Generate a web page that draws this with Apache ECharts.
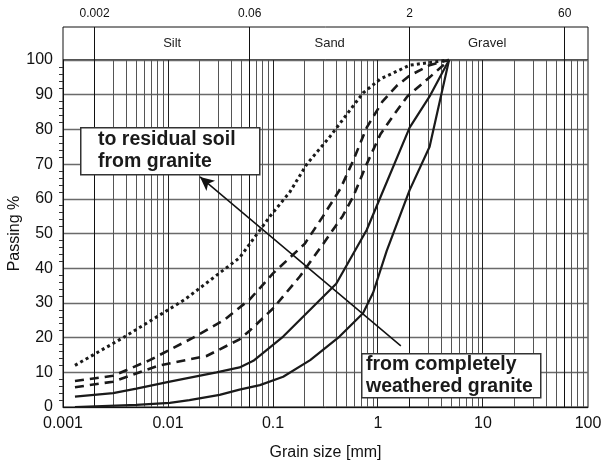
<!DOCTYPE html>
<html><head><meta charset="utf-8">
<script src="https://cdn.jsdelivr.net/npm/echarts@6/dist/echarts.min.js"></script>
<style>html,body{margin:0;padding:0;background:#fff}#c{width:604px;height:465px}</style>
</head><body><div id="c"></div>
<script>
// ---- data ----
const xTickValues = [0.001, 0.01, 0.1, 1, 10, 100];
const boundaryValues = [0.002, 0.06, 2, 60];
const fractionNames = ['Silt', 'Sand', 'Gravel'];

const sizeDotted = [0.0013, 0.00375, 0.0145, 0.048, 0.094, 0.145, 0.21, 0.35, 0.72, 1.05, 2.0, 4.75];
const passDotted = [12, 20, 31, 43, 55, 62, 70, 78, 90.5, 94.5, 98.5, 100];

const sizeDashedA = [0.0013, 0.003, 0.0067, 0.0174, 0.034, 0.06, 0.1, 0.2, 0.3, 0.44, 0.58, 0.78, 1.1, 1.5, 2.0, 3.1, 4.75];
const passDashedA = [7.5, 9, 13.5, 20, 25, 31, 38.5, 47, 55, 63, 71, 80.5, 88, 92.5, 95.5, 98.5, 100];

const sizeDashedB = [0.0013, 0.003, 0.0083, 0.0233, 0.048, 0.06, 0.1, 0.18, 0.3, 0.46, 0.58, 0.78, 1.05, 1.4, 1.9, 3.1, 4.75];
const passDashedB = [5.7, 7.3, 12, 14.7, 19.5, 22, 28.4, 37.6, 47, 55, 60.6, 70, 78.5, 84, 89.5, 95, 100];

const sizeSolidA = [0.0013, 0.003, 0.005, 0.0104, 0.029, 0.048, 0.065, 0.125, 0.4, 0.78, 2.0, 3.1, 4.75];
const passSolidA = [3, 4, 5.3, 7.3, 10, 11.4, 13.3, 20.3, 35.5, 51, 80.5, 89.5, 100];

const sizeSolidB = [0.0013, 0.005, 0.0104, 0.016, 0.031, 0.048, 0.075, 0.125, 0.226, 0.43, 0.72, 0.9, 1.21, 2.0, 3.1, 4.75];
const passSolidB = [0, 0.6, 1.2, 2, 3.5, 5, 6.3, 8.7, 13.5, 20.3, 27, 33, 45, 62.5, 75, 100];

// arrow annotation (data coordinates: grain size, passing)
const arrowFrom = [1.65, 17.6];
const arrowTo = [0.0202, 66.3];

// ---- helpers ----
const FONT = 'Liberation Sans, Arial, Helvetica, sans-serif';
const zip = (a, b) => a.map((v, i) => [v, b[i]]);
const gridValues = [];
for (let e = -3; e <= 1; e++) {
  for (let k = 1; k <= 9; k++) {
    const v = +(k * Math.pow(10, e)).toPrecision(3);
    if (v > 0.001 && v < 100) gridValues.push(v);
  }
}
const near = (a, b) => Math.abs(a - b) / b < 1e-6;
const isBoundary = v => boundaryValues.some(b => near(v, b));
const isDecade = v => xTickValues.some(b => near(v, b));
const fmt = v => String(+(+v).toPrecision(3));
const crisp = x => Math.round(x - 0.5) + 0.5;

const chart = echarts.init(document.getElementById('c'), null, {renderer: 'canvas'});
const lineOpt = (data, style) => ({
  type: 'line', xAxisIndex: 0, yAxisIndex: 0, data: data, symbol: 'none',
  smooth: false, z: 5, lineStyle: style, silent: true
});

chart.setOption({
  animation: false,
  backgroundColor: '#fff',
  textStyle: {fontFamily: FONT},
  grid: [
    {left: 63, right: 16, top: 60, bottom: 58, show: true, borderColor: '#111', borderWidth: 1,
      containLabel: false, outerBoundsMode: 'none'},
    {left: 63, right: 16, top: 27, height: 33, show: true, borderColor: '#111', borderWidth: 1,
      containLabel: false, outerBoundsMode: 'none'}
  ],
  xAxis: [
    {
      gridIndex: 0, type: 'log', logBase: 10, min: 0.001, max: 100,
      axisLine: {show: true, lineStyle: {color: '#111', width: 1}},
      axisTick: {show: false},
      splitLine: {show: false},
      axisLabel: {color: '#111', fontSize: 16, margin: 9, formatter: fmt},
      name: 'Grain size [mm]', nameLocation: 'middle', nameGap: 38,
      nameTextStyle: {color: '#111', fontSize: 16}
    },
    {
      gridIndex: 1, type: 'log', logBase: 10, min: 0.001, max: 100,
      axisLine: {show: false}, axisTick: {show: false}, axisLabel: {show: false}, splitLine: {show: false}
    }
  ],
  yAxis: [
    {
      gridIndex: 0, type: 'value', min: 0, max: 100, interval: 10,
      axisLine: {show: true, lineStyle: {color: '#111', width: 1}},
      axisTick: {show: false},
      minorTick: {show: true, splitNumber: 5, length: 4, lineStyle: {color: '#333', width: 1}},
      splitLine: {show: true, lineStyle: {color: '#6a6a6a', width: 1.4}},
      axisLabel: {color: '#111', fontSize: 16, margin: 10},
      name: 'Passing %', nameLocation: 'middle', nameGap: 40, nameRotate: 90, nameMoveOverlap: false,
      nameTextStyle: {color: '#111', fontSize: 16}
    },
    {
      gridIndex: 1, type: 'value', min: 0, max: 1, show: false
    }
  ],
  series: [
    {
      // vertical log grid lines (1..9 x 10^n)
      type: 'custom', xAxisIndex: 0, yAxisIndex: 0, z: 1, silent: true,
      data: gridValues.map(v => [v, 0]),
      encode: {x: 0, y: 1},
      renderItem: (params, api) => {
        const v = api.value(0);
        const p1 = api.coord([v, 0]);
        const p2 = api.coord([v, 100]);
        const x = crisp(p1[0]);
        const strong = isBoundary(v);
        return {
          type: 'line', shape: {x1: x, y1: p1[1], x2: x, y2: p2[1]},
          style: {stroke: strong ? '#111' : (isDecade(v) ? '#222' : '#555'), lineWidth: 1}
        };
      }
    },
    {
      // band boundaries with value labels on top
      type: 'custom', xAxisIndex: 1, yAxisIndex: 1, z: 2, silent: true,
      data: boundaryValues.map(v => [v, 0]),
      encode: {x: 0, y: 1},
      renderItem: (params, api) => {
        const v = api.value(0);
        const p1 = api.coord([v, 0]);
        const p2 = api.coord([v, 1]);
        const x = crisp(p1[0]);
        return {
          type: 'group', children: [
            {type: 'line', shape: {x1: x, y1: p1[1], x2: x, y2: p2[1]},
              style: {stroke: '#111', lineWidth: 1}},
            {type: 'text', x: p1[0], y: p2[1] - 7,
              style: {text: fmt(v), fill: '#111', font: '12px ' + FONT,
                textAlign: 'center', textVerticalAlign: 'bottom'}}
          ]
        };
      }
    },
    {
      // fraction names inside the band
      type: 'custom', xAxisIndex: 1, yAxisIndex: 1, z: 2, silent: true,
      data: fractionNames.map((n, i) => [boundaryValues[i], 0, boundaryValues[i + 1]]),
      encode: {x: 0, y: 1},
      renderItem: (params, api) => {
        const a = api.value(0), b = api.value(2);
        const p = api.coord([Math.sqrt(a * b), 0.5]);
        return {
          type: 'text', x: p[0], y: p[1],
          style: {text: fractionNames[params.dataIndex], fill: '#222', font: '13px ' + FONT,
            textAlign: 'center', textVerticalAlign: 'middle'}
        };
      }
    },
    lineOpt(zip(sizeDotted, passDotted), {color: '#1a1a1a', width: 3, type: [3, 3.2], cap: 'butt'}),
    lineOpt(zip(sizeDashedA, passDashedA), {color: '#1a1a1a', width: 2.6, type: [9, 6], cap: 'butt'}),
    lineOpt(zip(sizeDashedB, passDashedB), {color: '#1a1a1a', width: 2.6, type: [9, 6], cap: 'butt'}),
    lineOpt(zip(sizeSolidA, passSolidA), {color: '#1a1a1a', width: 2.2, type: 'solid'}),
    lineOpt(zip(sizeSolidB, passSolidB), {color: '#1a1a1a', width: 2.2, type: 'solid'}),
    {
      type: 'line', xAxisIndex: 0, yAxisIndex: 0, data: [], z: 8, silent: true,
      markLine: {
        silent: true, animation: false,
        symbol: ['none', 'arrow'], symbolSize: [10, 14],
        label: {show: false},
        lineStyle: {type: 'solid', color: '#111', width: 1.5},
        data: [[{coord: arrowFrom}, {coord: arrowTo}]]
      }
    }
  ],
  graphic: [
    {type: 'rect', left: 80, top: 127, z: 100,
      shape: {width: 179, height: 47}, style: {fill: '#fff', stroke: '#333', lineWidth: 1.5}},
    {type: 'text', left: 98, top: 129, z: 101,
      style: {text: 'to residual soil\nfrom granite', fill: '#1a1a1a',
        font: 'bold 19.5px ' + FONT, lineHeight: 22}},
    {type: 'rect', left: 361, top: 353, z: 100,
      shape: {width: 179, height: 44}, style: {fill: '#fff', stroke: '#333', lineWidth: 1.5}},
    {type: 'text', left: 366, top: 354, z: 101,
      style: {text: 'from completely\nweathered granite', fill: '#1a1a1a',
        font: 'bold 19.5px ' + FONT, lineHeight: 22}}
  ]
});
</script>
</body></html>
